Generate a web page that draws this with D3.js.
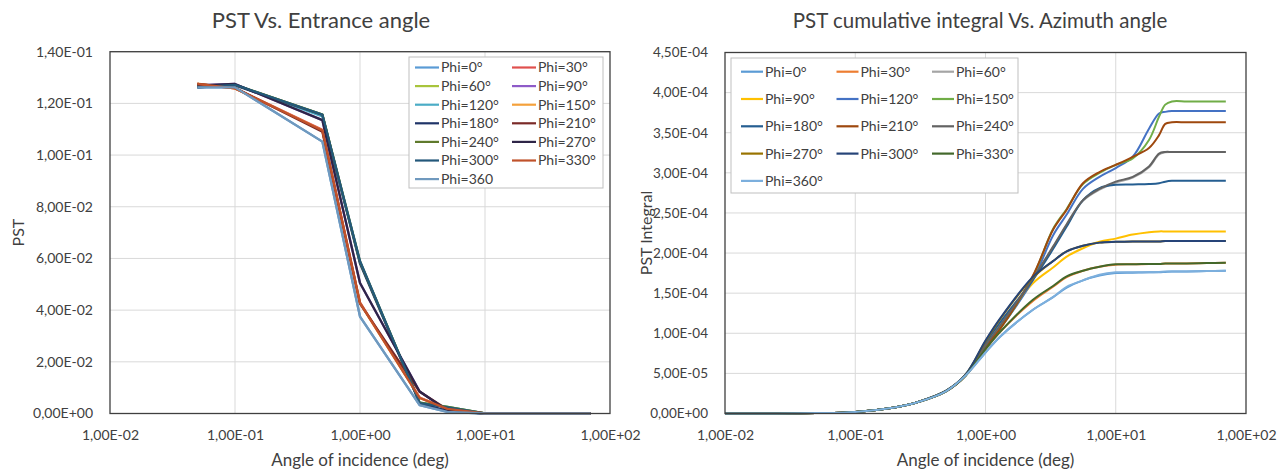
<!DOCTYPE html>
<html><head><meta charset="utf-8">
<script src="https://cdn.jsdelivr.net/npm/d3@7/dist/d3.min.js"></script>
<style>
html,body{margin:0;padding:0;background:#fff;}
svg{display:block;font-family:Lato,"Open Sans",sans-serif;}
</style></head><body>
<svg id="c" width="1284" height="473"></svg>
<script>
// ---------- DATA ----------
const phiLabelsLeft  = ["Phi=0°","Phi=30°","Phi=60°","Phi=90°","Phi=120°","Phi=150°","Phi=180°","Phi=210°","Phi=240°","Phi=270°","Phi=300°","Phi=330°","Phi=360"];
const phiLabelsRight = ["Phi=0°","Phi=30°","Phi=60°","Phi=90°","Phi=120°","Phi=150°","Phi=180°","Phi=210°","Phi=240°","Phi=270°","Phi=300°","Phi=330°","Phi=360°"];
const colorsLeft  = ["#5A9BD5","#E0504D","#A8C43C","#8E5BC8","#4BACC6","#F4A13B","#1F3468","#7A2A28","#5F7A2C","#2E2547","#23587A","#C0522B","#7099BE"];
const colorsRight = ["#5B9BD5","#ED7D31","#A5A5A5","#FFC000","#4472C4","#70AD47","#255E91","#9E480E","#636363","#997300","#264478","#43682B","#7CAFDD"];

// Left chart: PST vs entrance angle (deg)
const anglesLeft = [0.05, 0.1, 0.5, 1, 3, 5, 10, 20, 30, 50, 70];
const pstLeft = [
  [0.1262, 0.1262, 0.1052, 0.0375, 0.0032, 0.0006, 0, 0, 0, 0, 0], // 0
  [0.1275, 0.1258, 0.1098, 0.0430, 0.0062, 0.0018, 0, 0, 0, 0, 0], // 30
  [0.1268, 0.1272, 0.1157, 0.0587, 0.0042, 0.0026, 0, 0, 0, 0, 0], // 60
  [0.1270, 0.1275, 0.1135, 0.0505, 0.0085, 0.0012, 0, 0, 0, 0, 0], // 90
  [0.1268, 0.1273, 0.1150, 0.0585, 0.0042, 0.0026, 0, 0, 0, 0, 0], // 120
  [0.1276, 0.1258, 0.1095, 0.0427, 0.0060, 0.0019, 0, 0, 0, 0, 0], // 150
  [0.1262, 0.1270, 0.1155, 0.0580, 0.0040, 0.0010, 0, 0, 0, 0, 0], // 180
  [0.1275, 0.1260, 0.1090, 0.0425, 0.0084, 0.0016, 0, 0, 0, 0, 0], // 210
  [0.1268, 0.1272, 0.1157, 0.0587, 0.0042, 0.0026, 0, 0, 0, 0, 0], // 240
  [0.1270, 0.1275, 0.1135, 0.0505, 0.0085, 0.0012, 0, 0, 0, 0, 0], // 270
  [0.1262, 0.1272, 0.1157, 0.0590, 0.0040, 0.0024, 0, 0, 0, 0, 0], // 300
  [0.1275, 0.1258, 0.1095, 0.0427, 0.0060, 0.0018, 0, 0, 0, 0, 0], // 330
  [0.1262, 0.1262, 0.1052, 0.0375, 0.0032, 0.0006, 0, 0, 0, 0, 0]  // 360
];

// Right chart: PST cumulative integral (units of 1e-4)
const anglesRight = [0.01, 0.02, 0.05, 0.1, 0.2, 0.3, 0.5, 0.7, 1, 1.3, 2.3, 3.3, 4.2, 5.6, 7.5, 10, 13.5, 18, 21.5, 24, 27, 35, 50, 70];
const integralE4 = [
  [0, 0.001, 0.005, 0.02, 0.075, 0.14, 0.28, 0.47, 0.76, 0.96, 1.29, 1.45, 1.57, 1.66, 1.72, 1.75, 1.755, 1.76, 1.76, 1.765, 1.77, 1.77, 1.775, 1.78], // 0
  [0, 0.001, 0.005, 0.02, 0.075, 0.14, 0.28, 0.47, 0.80, 1.02, 1.40, 1.58, 1.70, 1.78, 1.83, 1.855, 1.86, 1.865, 1.865, 1.87, 1.87, 1.87, 1.875, 1.88], // 30
  [0, 0.001, 0.005, 0.02, 0.075, 0.14, 0.28, 0.47, 0.85, 1.10, 1.67, 2.07, 2.35, 2.65, 2.79, 2.88, 2.94, 3.07, 3.23, 3.255, 3.26, 3.26, 3.26, 3.26], // 60
  [0, 0.001, 0.005, 0.02, 0.075, 0.14, 0.28, 0.47, 0.84, 1.08, 1.62, 1.82, 1.955, 2.06, 2.14, 2.18, 2.23, 2.26, 2.27, 2.27, 2.27, 2.27, 2.27, 2.27], // 90
  [0, 0.001, 0.005, 0.02, 0.075, 0.14, 0.28, 0.47, 0.83, 1.06, 1.66, 2.22, 2.48, 2.80, 2.95, 3.06, 3.20, 3.55, 3.74, 3.76, 3.77, 3.77, 3.77, 3.77], // 120
  [0, 0.001, 0.005, 0.02, 0.075, 0.14, 0.28, 0.47, 0.83, 1.06, 1.70, 2.30, 2.55, 2.86, 3.00, 3.10, 3.18, 3.41, 3.70, 3.85, 3.89, 3.89, 3.89, 3.89], // 150
  [0, 0.001, 0.005, 0.02, 0.076, 0.142, 0.285, 0.48, 0.88, 1.14, 1.66, 2.05, 2.33, 2.66, 2.81, 2.85, 2.855, 2.86, 2.87, 2.89, 2.90, 2.90, 2.90, 2.90], // 180
  [0, 0.001, 0.005, 0.02, 0.075, 0.14, 0.28, 0.47, 0.83, 1.06, 1.71, 2.29, 2.54, 2.87, 3.01, 3.10, 3.20, 3.31, 3.47, 3.61, 3.63, 3.63, 3.63, 3.63], // 210
  [0, 0.001, 0.005, 0.02, 0.075, 0.14, 0.28, 0.47, 0.85, 1.10, 1.68, 2.08, 2.36, 2.66, 2.80, 2.89, 2.95, 3.08, 3.24, 3.26, 3.26, 3.26, 3.26, 3.26], // 240
  [0, 0.001, 0.005, 0.02, 0.076, 0.142, 0.285, 0.48, 0.90, 1.18, 1.69, 1.90, 2.02, 2.09, 2.13, 2.14, 2.145, 2.145, 2.145, 2.15, 2.15, 2.15, 2.15, 2.15], // 270
  [0, 0.001, 0.005, 0.02, 0.076, 0.142, 0.285, 0.48, 0.91, 1.19, 1.70, 1.90, 2.02, 2.09, 2.13, 2.14, 2.145, 2.145, 2.145, 2.15, 2.15, 2.15, 2.15, 2.15], // 300
  [0, 0.001, 0.005, 0.02, 0.075, 0.14, 0.28, 0.47, 0.80, 1.02, 1.415, 1.59, 1.71, 1.78, 1.83, 1.86, 1.86, 1.865, 1.865, 1.87, 1.87, 1.87, 1.875, 1.88], // 330
  [0, 0.001, 0.005, 0.02, 0.075, 0.14, 0.28, 0.47, 0.76, 0.96, 1.29, 1.45, 1.58, 1.66, 1.73, 1.76, 1.76, 1.76, 1.765, 1.77, 1.77, 1.77, 1.775, 1.78]  // 360
];

const xTicks = [0.01, 0.1, 1, 10, 100];
const yTicksLeft = [0, 0.02, 0.04, 0.06, 0.08, 0.10, 0.12, 0.14];
const yTicksRightE4 = [0, 0.5, 1.0, 1.5, 2.0, 2.5, 3.0, 3.5, 4.0, 4.5];

// ---------- HELPERS ----------
function excelSci(v){
  if (v === 0) return "0,00E+00";
  let e = Math.floor(Math.log10(Math.abs(v)) + 1e-9);
  let m = v / Math.pow(10, e);
  if (Math.abs(m) >= 9.995) { m /= 10; e += 1; }
  return m.toFixed(2).replace('.', ',') + 'E' + (e < 0 ? '-' : '+') + String(Math.abs(e)).padStart(2, '0');
}
const svg = d3.select('#c');
const textCol = '#404040';

function drawChart(o){
  const g = svg.append('g');
  const x = d3.scaleLog().domain([0.01, 100]).range([o.left, o.right]);
  const y = d3.scaleLinear().domain([0, o.yMax]).range([o.bottom, o.top]);
  // grid
  g.append('g').selectAll('line.h').data(o.yTicks.slice(1)).join('line')
    .attr('x1', o.left).attr('x2', o.right).attr('y1', d => y(d)).attr('y2', d => y(d))
    .attr('stroke', '#D9D9D9').attr('stroke-width', 1);
  g.append('g').selectAll('line.v').data(xTicks.slice(1, -1)).join('line')
    .attr('y1', o.top).attr('y2', o.bottom).attr('x1', d => x(d)).attr('x2', d => x(d))
    .attr('stroke', '#D9D9D9').attr('stroke-width', 1);
  // axes (labels)
  const ax = g.append('g').attr('transform', `translate(0,${o.bottom})`)
    .call(d3.axisBottom(x).tickValues(xTicks).tickFormat(excelSci).tickSize(0).tickPadding(17));
  ax.select('.domain').remove();
  ax.selectAll('text').attr('fill', textCol).style('font-size', '14px').style('font-family', 'Lato');
  const ay = g.append('g').attr('transform', `translate(${o.left},0)`)
    .call(d3.axisLeft(y).tickValues(o.yTicks).tickFormat(d => excelSci(d * o.unit)).tickSize(0).tickPadding(17));
  ay.select('.domain').remove();
  ay.selectAll('text').attr('fill', textCol).style('font-size', o.yfs).style('font-family', 'Lato');
  // lines
  const line = d3.line().x((d, i) => x(o.xs[i])).y(d => y(d)).curve(o.curve);
  g.append('g').selectAll('path').data(o.series).join('path')
    .attr('d', d => line(d)).attr('fill', 'none')
    .attr('stroke', (d, i) => o.colors[i]).attr('stroke-width', o.lw)
    .attr('stroke-linejoin', 'round');
  // frame
  g.append('rect').attr('x', o.left).attr('y', o.top)
    .attr('width', o.right - o.left).attr('height', o.bottom - o.top)
    .attr('fill', 'none').attr('stroke', '#3f3f3f').attr('stroke-width', 1.3);
  // titles
  g.append('text').attr('x', o.titleX).attr('y', 28).attr('text-anchor', 'middle')
    .attr('fill', textCol).style('font-size', o.tfs).text(o.title);
  g.append('text').attr('x', (o.left + o.right) / 2).attr('y', 466).attr('text-anchor', 'middle')
    .attr('fill', textCol).style('font-size', '17px').text('Angle of incidence (deg)');
  g.append('text').attr('transform', `translate(${o.ytX},${(o.top + o.bottom) / 2}) rotate(-90)`)
    .attr('text-anchor', 'middle').attr('fill', textCol).style('font-size', '16px').text(o.yTitle);
  // legend
  const L = o.legend;
  const lg = g.append('g');
  lg.append('rect').attr('x', L.x).attr('y', L.y).attr('width', L.w).attr('height', L.h)
    .attr('fill', '#fff').attr('stroke', '#BFBFBF').attr('stroke-width', 1);
  o.labels.forEach((lab, i) => {
    const c = i % L.cols, r = Math.floor(i / L.cols);
    const lx = L.x0 + c * L.colW, ly = L.y0 + r * L.rowH;
    lg.append('line').attr('x1', lx).attr('x2', lx + L.lineW).attr('y1', ly).attr('y2', ly)
      .attr('stroke', o.colors[i]).attr('stroke-width', 2.2);
    lg.append('text').attr('x', lx + L.lineW + 2).attr('y', ly).attr('dy', '0.35em')
      .attr('fill', textCol).style('font-size', L.fs).text(lab);
  });
}

drawChart({
  left: 110, right: 610, top: 51.7, bottom: 413.5, yMax: 0.14, unit: 1,
  yTicks: yTicksLeft, xs: anglesLeft, series: pstLeft, colors: colorsLeft, lw: 2.3,
  curve: d3.curveLinear, title: 'PST Vs. Entrance angle', titleX: 321, tfs: '22px', yfs: '14px',
  yTitle: 'PST', ytX: 24, labels: phiLabelsLeft,
  legend: {x: 409, y: 57, w: 194, h: 131, cols: 2, x0: 415, y0: 67.5, colW: 97, rowH: 18.6, lineW: 24, fs: '14px'}
});
drawChart({
  left: 725, right: 1246, top: 52.5, bottom: 413.5, yMax: 4.5, unit: 1e-4,
  yTicks: yTicksRightE4, xs: anglesRight, series: integralE4, colors: colorsRight, lw: 2,
  curve: d3.curveCatmullRom.alpha(0.5), title: 'PST cumulative integral Vs. Azimuth angle', titleX: 980, tfs: '20.5px', yfs: '13.5px',
  yTitle: 'PST Integral', ytX: 652, labels: phiLabelsRight,
  legend: {x: 731, y: 58, w: 287, h: 135, cols: 3, x0: 741, y0: 71.7, colW: 95.5, rowH: 27.3, lineW: 22, fs: '14px'}
});
</script>
</body></html>
